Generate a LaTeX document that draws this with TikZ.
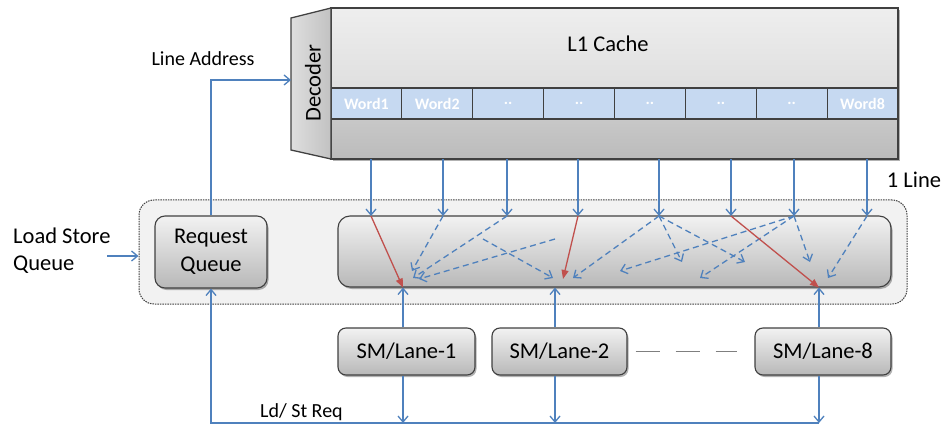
\documentclass[tikz,border=0pt]{standalone}
\usepackage{fontspec}
\setmainfont{Carlito}
\usetikzlibrary{arrows.meta,shadows,calc}

\definecolor{lineblue}{HTML}{4F81BD}
\definecolor{linered}{HTML}{C0504D}
\definecolor{edgegray}{HTML}{404040}
\definecolor{wordblue}{HTML}{C6D9F1}
\definecolor{panelgray}{HTML}{F2F2F2}
\definecolor{unittop}{HTML}{F2F2F2}
\definecolor{unitbottom}{HTML}{B8B8B8}
\definecolor{cachetop}{HTML}{EEEEEE}
\definecolor{cachemid}{HTML}{D2D2D2}
\definecolor{bandtop}{HTML}{C8C8C8}
\definecolor{bandbottom}{HTML}{BBBBBB}
\definecolor{declight}{HTML}{DEDEDE}
\definecolor{decdark}{HTML}{C2C2C2}
\definecolor{sepgray}{HTML}{7F7F7F}

\tikzset{
  big/.style={font=\fontsize{22.5}{27}\selectfont},
  mid/.style={font=\fontsize{20}{24}\selectfont},
  softshadow/.style={drop shadow={shadow xshift=1.5pt, shadow yshift=-2pt, opacity=0.3, fill=black}},
  unit/.style={draw=edgegray, line width=1.1pt, top color=unittop, bottom color=unitbottom,
    softshadow, inner sep=0pt},
  wordcell/.style={draw=edgegray, line width=1.2pt, fill=wordblue, minimum width=70.875pt,
    minimum height=31pt, inner sep=0pt, text=white, font=\fontsize{16}{18}\selectfont\bfseries},
  feed/.style={lineblue, line width=1.3pt, -{Straight Barb[length=6pt,width=10pt]}},
  scatter/.style={feed, dash pattern=on 6pt off 4pt},
  hit/.style={linered, line width=1.3pt, -{Triangle[length=9pt,width=7pt]}},
}

\begin{document}
\begin{tikzpicture}[x=1pt, y=-1pt]
\useasboundingbox (0,0) rectangle (946,425);

% ---------- L1 cache with its decoder ----------
\node[top color=cachetop, bottom color=cachemid, softshadow, minimum width=567pt,
  minimum height=151pt, inner sep=0pt] (cache) at (614.5,83.5) {};
\fill[top color=bandtop, bottom color=bandbottom] (331,119) rectangle (898,159);
\foreach \i/\t in {1/Word1,2/Word2,3/..,4/..,5/..,6/..,7/..,8/Word8}
  \node[wordcell] (w\i) at ({331+70.875*(\i-0.5)},103.5) {\t};
\draw[edgegray, line width=1.5pt] (cache.south west) rectangle (cache.north east);
\node[big] (l1) at (608,44) {L1 Cache};

\path[left color=declight, right color=decdark, draw=edgegray, line width=1.3pt]
  (291,18) -- (331,8) -- (331,159) -- (291,150) -- cycle;
\node[big, rotate=90] (dec) at (313,83) {Decoder};
\coordinate (decin) at (291,80);

% ---------- load store queue ----------
\node[fill=panelgray, draw=edgegray, line width=1pt, dash pattern=on 1.5pt off 1pt,
  rounded corners=15pt, minimum width=768pt, minimum height=104pt] (lsq) at (523,252) {};
\node[big, align=left, anchor=west, inner sep=0pt] (lsqlabel) at (13,251) {Load Store\\Queue};
\coordinate (lsqsrc) at (107,256);
\draw[feed] (lsqsrc) -- (lsqsrc -| lsq.west);

\node[unit, rounded corners=10pt, minimum width=112pt, minimum height=72pt, align=center,
  font=\fontsize{22.5}{28}\selectfont] (rq) at (211,252) {Request\\Queue};
\node[unit, rounded corners=12pt, minimum width=553pt, minimum height=71pt] (xbar) at (614.5,251.5) {};

% ---------- lanes ----------
\node[unit, rounded corners=8pt, minimum width=137pt, minimum height=47pt, big] (sm1) at (406.5,351.5) {SM/Lane-1};
\node[unit, rounded corners=8pt, minimum width=135pt, minimum height=47pt, big] (sm2) at (559.5,351.5) {SM/Lane-2};
\node[unit, rounded corners=8pt, minimum width=136pt, minimum height=47pt, big] (sm8) at (823,351.5) {SM/Lane-8};
\draw[sepgray, line width=1.3pt, dash pattern=on 24pt off 16pt]
  ([xshift=8pt]sm2.east) -- ([xshift=-17pt]sm8.west);

\coordinate (p1) at (403,0);
\coordinate (p2) at (555,0);
\coordinate (p8) at (819,0);
\coordinate (busy) at (0,423);

\foreach \p/\s in {p1/sm1,p2/sm2,p8/sm8} {
  \draw[feed] (\p |- \s.north) -- (\p |- xbar.south);
  \draw[feed] (\p |- \s.south) -- (\p |- busy);
}
\draw[feed] (p8 |- busy) -- (rq.south |- busy) -- (rq.south);
\node[mid, anchor=west, inner sep=0pt] (ldst) at (260,412) {Ld/ St Req};

% line address from the request queue to the decoder
\draw[feed] (rq.north) |- (decin);
\node[mid] (la) at (203,59) {Line Address};

% ---------- one line read out of the cache ----------
\foreach \i/\x in {1/371,2/443,3/507,4/578,5/659,6/731,7/794,8/867} {
  \coordinate (t\i) at (\x,216);
  \draw[feed] (t\i |- cache.south) -- (t\i);
}
\node[big] (oneline) at (914,180) {1 Line};

% words routed to the lanes
\coordinate (e2) at (412,271);
\coordinate (e3) at (413,278);
\coordinate (s9) at (555,239);
\coordinate (e9) at (419,279);
\coordinate (s10) at (483,239);
\coordinate (e10) at (553,278);
\coordinate (e4) at (563,279);
\coordinate (e5a) at (573,278);
\coordinate (e5b) at (682,262);
\coordinate (e5c) at (745,262);
\coordinate (e7a) at (620,271);
\coordinate (e7b) at (700,278);
\coordinate (e7c) at (810,262);
\coordinate (e8) at (828,278);

\draw[scatter] (t2) -- (e2);
\draw[scatter] (t3) -- (e3);
\draw[scatter] (s9) -- (e9);
\draw[scatter] (s10) -- (e10);
\draw[scatter] (t5) -- (e5a);
\draw[scatter] (t5) -- (e5b);
\draw[scatter] (t5) -- (e5c);
\draw[scatter] (t7) -- (e7a);
\draw[scatter] (t7) -- (e7b);
\draw[scatter] (t7) -- (e7c);
\draw[scatter] (t8) -- (e8);

\draw[hit] (t1) -- (p1 |- xbar.south);
\draw[hit] (t4) -- (e4);
\draw[hit] (t6) -- (p8 |- xbar.south);
\end{tikzpicture}
\end{document}
